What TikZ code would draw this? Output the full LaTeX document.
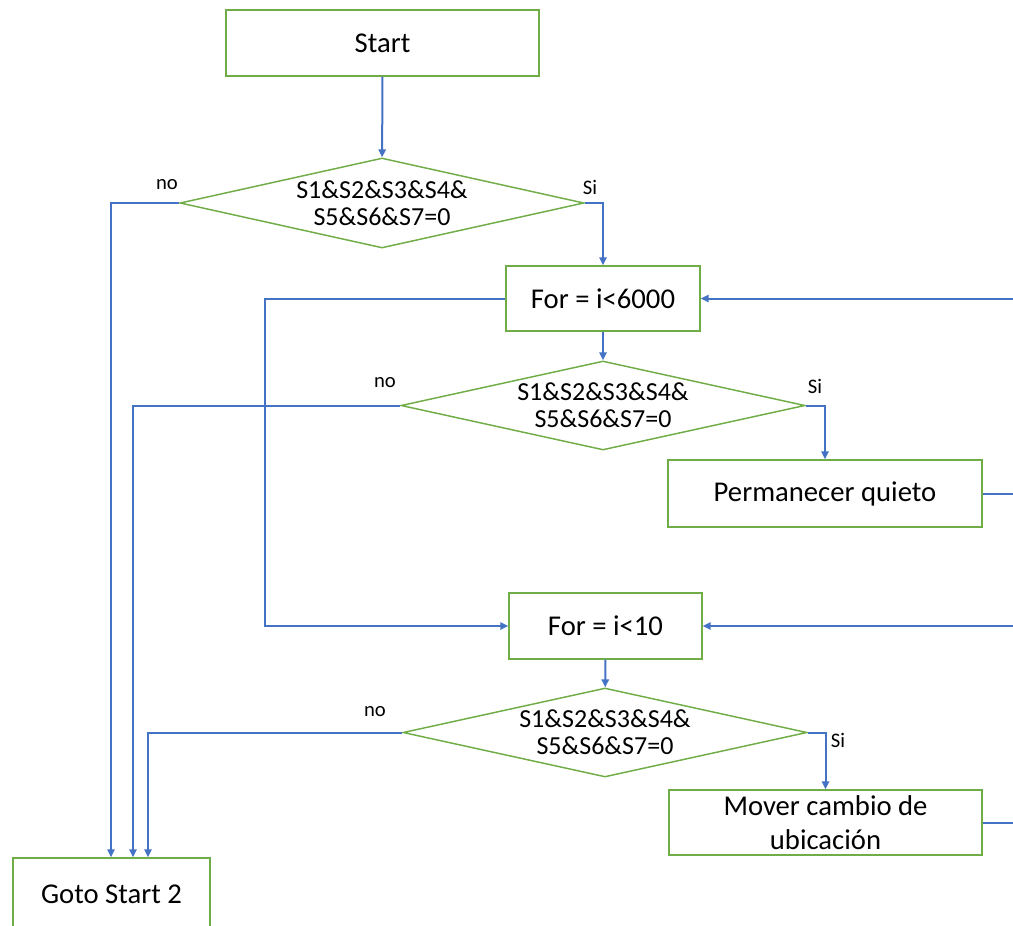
\documentclass[tikz,border=0pt]{standalone}
\usepackage{fontspec}
\setmainfont{Carlito}
\usetikzlibrary{shapes.geometric,arrows.meta,calc}
\definecolor{gborder}{RGB}{112,173,71}
\definecolor{bline}{RGB}{68,114,196}
\tikzset{
  procbox/.style={draw=gborder,line width=1.1pt,fill=white,rectangle,inner sep=0pt,align=center,font=\fontsize{21.5}{25}\selectfont},
  decbox/.style={draw=gborder,line width=1.1pt,fill=white,diamond,inner sep=0pt,aspect=4.5,align=center,font=\fontsize{19.5}{20.5}\selectfont},
  conn/.style={draw=bline,line width=1.5pt},
  arr/.style={conn,-{Triangle[length=6pt,width=5.5pt]}},
  lbl/.style={font=\fontsize{15.5}{17}\selectfont,inner sep=0pt}
}
\begin{document}
\begin{tikzpicture}[x=0.75pt,y=-0.75pt]
\useasboundingbox (0,0) rectangle (1013,925);
\clip (0,0) rectangle (1013,925);
% nodes
\node[procbox,minimum width=313*0.75pt,minimum height=66*0.75pt] (start) at (382.5,43) {Start};
\node[decbox,minimum width=404*0.75pt,minimum height=90*0.75pt] (d1) at (382,203) {S1\&S2\&S3\&S4\&\\S5\&S6\&S7=0};
\node[procbox,minimum width=194*0.75pt,minimum height=65*0.75pt] (for1) at (603,298.5) {For = i<6000};
\node[decbox,minimum width=404*0.75pt,minimum height=89*0.75pt] (d2) at (603,405.5) {S1\&S2\&S3\&S4\&\\S5\&S6\&S7=0};
\node[procbox,minimum width=314*0.75pt,minimum height=67*0.75pt] (perm) at (825,493.5) {Permanecer quieto};
\node[procbox,minimum width=193*0.75pt,minimum height=66*0.75pt] (for2) at (605.5,626) {For = i<10};
\node[decbox,minimum width=404*0.75pt,minimum height=89*0.75pt] (d3) at (605,732.5) {S1\&S2\&S3\&S4\&\\S5\&S6\&S7=0};
\node[procbox,minimum width=313*0.75pt,minimum height=65*0.75pt] (mover) at (825.5,822.5) {Mover cambio de\\ubicación};
\node[procbox,minimum width=197*0.75pt,minimum height=72*0.75pt] (goto) at (111.5,894) {Goto Start 2};
% edge coordinates
\coordinate (e1) at (1013,298.5);
\coordinate (e2) at (1013,493.5);
\coordinate (e3) at (1013,626);
\coordinate (e4) at (1013,822.5);
\coordinate (g1) at ($(goto.north)+(-0.5,0)$);
\coordinate (g2) at ($(goto.north)+(21.5,0)$);
\coordinate (g3) at ($(goto.north)+(36.5,0)$);
% connectors
\draw[arr] (start) -- (d1);
\draw[arr] (d1.west) -| (g1);
\draw[arr] (d1.east) -| (for1.north);
\draw[arr] (for1) -- (d2);
\draw[arr] (for1.west) -- ++(-240,0) |- (for2.west);
\draw[arr] (e1) -- (for1.east);
\draw[arr] (d2.west) -| (g2);
\draw[arr] (d2.east) -| (perm.north);
\draw[conn] (perm.east) -- (e2);
\draw[arr] (e3) -- (for2.east);
\draw[arr] (for2) -- (d3);
\draw[arr] (d3.west) -| (g3);
\draw[arr] (d3.east) -| (mover.north);
\draw[conn] (mover.east) -- (e4);
% labels
\node[lbl] (n1) at (167,185) {no};
\node[lbl] (s1) at (590,187) {Si};
\node[lbl] (n2) at (385,383) {no};
\node[lbl] (s2) at (815,386) {Si};
\node[lbl] (n3) at (375,712) {no};
\node[lbl] (s3) at (838,740) {Si};
\end{tikzpicture}
\end{document}
